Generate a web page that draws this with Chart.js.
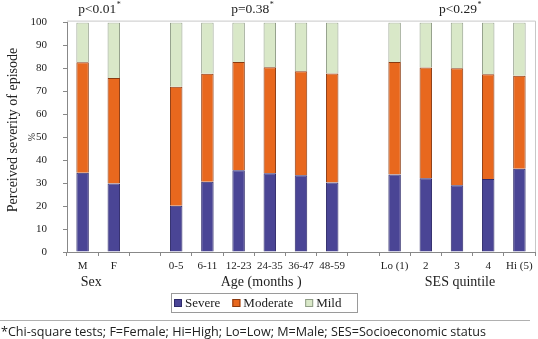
<!DOCTYPE html>
<html>
<head>
<meta charset="utf-8">
<script src="https://cdn.jsdelivr.net/npm/chart.js@4"></script>
<style>
  html, body { margin: 0; padding: 0; background: #fff; }
  canvas { display: block; }
</style>
</head>
<body>
<canvas id="chart" width="538" height="339"></canvas>
<script>
// categories (empty strings are the gaps between groups)
const categories = ['M', 'F', '', '0-5', '6-11', '12-23', '24-35', '36-47', '48-59', '', 'Lo (1)', '2', '3', '4', 'Hi (5)'];

// percent of episodes per category
const severe   = [34.5, 29.9, null, 20.2, 30.6, 35.6, 34.3, 33.5, 30.3, null, 33.8, 32.1, 29.1, 31.8, 36.3];
const moderate = [48.2, 45.9, null, 51.8, 47.1, 47.2, 46.2, 45.3, 47.5, null, 49.0, 48.3, 51.0, 45.7, 40.5];
const mild     = [17.3, 24.2, null, 28.0, 22.3, 17.2, 19.5, 21.2, 22.2, null, 17.2, 19.6, 19.9, 22.5, 23.2];

const yTicks = [0, 10, 20, 30, 40, 50, 60, 70, 80, 90, 100];

// groups under the axis and their test results
const groupNames = ['Sex', 'Age (months )', 'SES quintile'];
const groupFirst = [0, 3, 10];
const groupLast  = [1, 8, 14];
const pValues    = ['p<0.01', 'p=0.38', 'p<0.29'];

const footnote = '*Chi-square tests; F=Female; Hi=High; Lo=Low; M=Male; SES=Socioeconomic status';

const serif = '"Liberation Serif", "Times New Roman", serif';

const extras = {
  id: 'extras',
  afterDraw(chart) {
    const ctx = chart.ctx;
    const x = chart.scales.x;
    const area = chart.chartArea;
    ctx.save();

    // light frame on top and right of plot
    ctx.strokeStyle = '#c8c8c8';
    ctx.lineWidth = 1;
    ctx.beginPath();
    ctx.moveTo(area.left, area.top - 1.5);
    ctx.lineTo(area.right + 0.5, area.top - 1.5);
    ctx.lineTo(area.right + 0.5, area.bottom);
    ctx.stroke();

    // y axis title
    ctx.fillStyle = '#222';
    ctx.textAlign = 'center';
    ctx.textBaseline = 'middle';
    ctx.save();
    ctx.translate(13, 130);
    ctx.rotate(-Math.PI / 2);
    ctx.font = '14px ' + serif;
    ctx.fillText('Perceived severity of episode', 0, 0);
    ctx.restore();
    ctx.save();
    ctx.translate(32, 137);
    ctx.rotate(-Math.PI / 2);
    ctx.font = '10px ' + serif;
    ctx.fillText('%', 0, 0);
    ctx.restore();

    // group labels and p-values
    const groupNudge = [-7, 7, 3];
    const pNudge = [1, -2, 3];
    groupNames.forEach((name, i) => {
      const cx = (x.getPixelForValue(groupFirst[i]) + x.getPixelForValue(groupLast[i])) / 2;
      ctx.font = '14px ' + serif;
      ctx.textAlign = 'center';
      ctx.fillText(name, cx + groupNudge[i], 282);

      ctx.font = '13.5px ' + serif;
      const w = ctx.measureText(pValues[i]).width;
      const px = cx + pNudge[i] - 2;
      ctx.fillText(pValues[i], px, 9);
      ctx.font = '8px ' + serif;
      ctx.textAlign = 'left';
      ctx.fillText('*', px + w / 2 + 0.5, 5);
    });

    // legend with a box
    ctx.strokeStyle = '#9a9a9a';
    ctx.strokeRect(171.5, 293.5, 186, 19);
    ctx.font = '13px ' + serif;
    ctx.textAlign = 'left';
    let lx = 174;
    chart.data.datasets.forEach(ds => {
      ctx.fillStyle = ds.backgroundColor;
      ctx.fillRect(lx, 299, 8, 8);
      ctx.strokeStyle = ds.borderColor;
      ctx.strokeRect(lx + 0.5, 299.5, 7, 7);
      ctx.fillStyle = '#222';
      ctx.fillText(ds.label, lx + 11, 304);
      lx += 11 + ctx.measureText(ds.label).width + 12;
    });

    // footnote rule and text
    ctx.strokeStyle = '#b0b0b0';
    ctx.beginPath();
    ctx.moveTo(0, 320.5);
    ctx.lineTo(530, 320.5);
    ctx.stroke();
    ctx.font = '12.6px "Open Sans", "DejaVu Sans", sans-serif';
    ctx.fillStyle = '#222';
    ctx.textAlign = 'left';
    ctx.fillText(footnote, 1, 332);

    ctx.restore();
  }
};

new Chart(document.getElementById('chart'), {
  type: 'bar',
  data: {
    labels: categories,
    datasets: [
      { label: 'Severe', data: severe, backgroundColor: '#4a4595', borderColor: '#2e2a6a', borderWidth: 1 },
      { label: 'Moderate', data: moderate, backgroundColor: '#e8681e', borderColor: '#8a3a10', borderWidth: 1 },
      { label: 'Mild', data: mild, backgroundColor: '#d9e8c8', borderColor: '#8f9c86', borderWidth: 1 }
    ]
  },
  options: {
    responsive: false,
    animation: false,
    layout: { padding: { left: 0, top: 19, right: 3, bottom: 0 } },
    datasets: { bar: { categoryPercentage: 1, barPercentage: 0.4 } },
    plugins: { legend: { display: false }, tooltip: { enabled: false } },
    scales: {
      x: {
        stacked: true,
        offset: true,
        grid: { offset: true, drawOnChartArea: false, drawTicks: true, tickLength: 4, color: '#888' },
        border: { color: '#888' },
        ticks: { color: '#222', font: { family: serif, size: 11 }, padding: 4, maxRotation: 0, autoSkip: false },
        afterFit(s) { s.height = 87; }
      },
      y: {
        stacked: true,
        min: 0,
        max: 100,
        afterBuildTicks(s) { s.ticks = yTicks.map(v => ({ value: v })); },
        grid: { drawOnChartArea: false, drawTicks: true, tickLength: 4, color: '#888' },
        border: { color: '#888' },
        ticks: { color: '#222', font: { family: serif, size: 11 }, padding: 16 },
        afterFit(s) { s.width = 67; }
      }
    }
  },
  plugins: [extras]
});
</script>
</body>
</html>
